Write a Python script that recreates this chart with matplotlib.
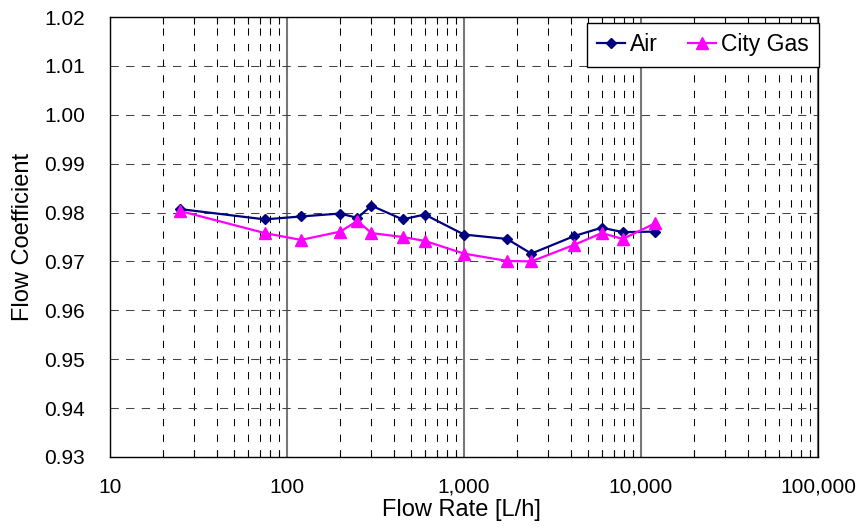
import matplotlib
matplotlib.use("Agg")
import matplotlib.pyplot as plt
from matplotlib.ticker import FixedLocator, FuncFormatter, LogLocator, NullFormatter

# flow rate [L/h]
flow_rate = [25, 75, 120, 200, 250, 300, 450, 600, 1000, 1750, 2400, 4200, 6000, 7900, 12000]
air = [0.9807, 0.9786, 0.9792, 0.9798, 0.9789, 0.9814, 0.9786, 0.9796, 0.9755,
       0.9746, 0.9716, 0.9752, 0.9769, 0.9760, 0.9761]
city_gas = [0.9803, 0.9758, 0.9744, 0.9761, 0.9783, 0.9758, 0.9750, 0.9742, 0.9716,
            0.9701, 0.9700, 0.9734, 0.9758, 0.9746, 0.9778]

y_ticks = [0.93, 0.94, 0.95, 0.96, 0.97, 0.98, 0.99, 1.00, 1.01, 1.02]

plt.rcParams["font.family"] = ["Liberation Sans", "DejaVu Sans"]

fig = plt.figure(figsize=(8.56, 5.28), dpi=100)
ax = fig.add_axes([0.1285, 0.1345, 0.8271, 0.8333])

ax.plot(flow_rate, air, color="#000080", marker="D", markersize=5.5, linewidth=1.6, label="Air")
ax.plot(flow_rate, city_gas, color="#FF00FF", marker="^", markersize=8, linewidth=1.6, label="City Gas")

ax.set_xscale("log")
ax.set_xlim(10, 100000)
ax.set_ylim(0.93, 1.02)
ax.yaxis.set_major_locator(FixedLocator(y_ticks))
ax.yaxis.set_major_formatter(FuncFormatter(lambda v, p: f"{v:.2f}"))
ax.xaxis.set_major_locator(LogLocator(base=10))
ax.xaxis.set_minor_locator(LogLocator(base=10, subs=range(2, 10)))
ax.xaxis.set_minor_formatter(NullFormatter())
ax.xaxis.set_major_formatter(FuncFormatter(lambda v, p: f"{int(round(v)):,}"))

# grid: solid grey at decades, dashed elsewhere
ax.grid(True, which="major", axis="x", color="#777777", linestyle="-", linewidth=1.5)
ax.grid(True, which="minor", axis="x", color="black", linestyle=(0, (7, 8)), linewidth=0.75)
ax.grid(True, which="major", axis="y", color="#444444", linestyle=(0, (8, 7)), linewidth=0.75)
ax.set_axisbelow(True)

ax.tick_params(which="both", direction="in", top=True, labelsize=15)
ax.tick_params(axis="y", which="major", length=0, pad=18)
ax.tick_params(axis="x", which="major", length=0, pad=15)
ax.tick_params(which="minor", length=5, width=0.8)
for s in ax.spines.values():
    s.set_color("black")
    s.set_linewidth(1.0)

ax.set_xlabel("Flow Rate [L/h]", fontsize=17)
ax.set_ylabel("Flow Coefficient", fontsize=17)
ax.xaxis.set_label_coords(0.496, -0.095)
ax.yaxis.set_label_coords(-0.108, 0.5)

leg = ax.legend(loc="upper right", ncol=2, fontsize=16.5, frameon=True, fancybox=False,
                edgecolor="black", framealpha=1, borderaxespad=0, borderpad=0.45,
                bbox_to_anchor=(819 / 856, 1 - 23 / 528), bbox_transform=fig.transFigure,
                handlelength=1.25, columnspacing=1.3, handletextpad=0.2)
leg.get_frame().set_linewidth(1.0)

fig.savefig("out.png", dpi=100)
